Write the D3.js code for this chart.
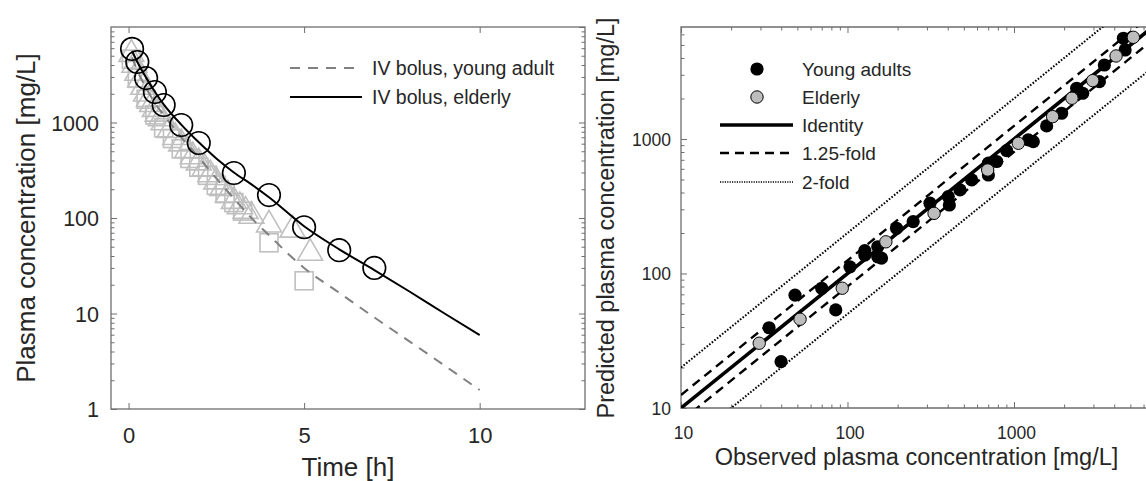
<!DOCTYPE html>
<html>
<head>
<meta charset="utf-8">
<script src="https://cdn.jsdelivr.net/npm/d3@7"></script>
<style>
  html, body { margin: 0; padding: 0; background: #fff; }
  svg { display: block; font-family: "Liberation Sans", Arial, Helvetica, sans-serif; }
</style>
</head>
<body>
<script>
// ---------- Left panel: concentration-time profiles ----------
// Model curves (IV bolus)
const modelTimes      = [0.1, 0.25, 0.5, 0.75, 1, 1.5, 2, 2.5, 3, 3.5, 4, 5, 6, 7, 8, 9, 10];
const modelYoung      = [4800, 3500, 2300, 1600, 1200, 700, 430, 260, 160, 100, 66, 30, 16.5, 9.1, 5.1, 2.85, 1.58];
const modelElderly    = [5600, 4300, 2950, 2100, 1550, 950, 620, 420, 300, 225, 165, 82, 47, 28.5, 17, 10, 5.95];

// Observed, young adults (triangles)
const youngTriTimes   = [0.08, 0.17, 0.25, 0.33, 0.42, 0.5, 0.58, 0.67, 0.75, 0.83, 0.92, 1.0, 1.17, 1.33, 1.5, 1.67, 1.83, 2.0, 2.17, 2.33, 2.5, 2.67, 2.83, 3.0, 3.17, 3.33, 3.5, 4.0, 4.67, 5.17];
const youngTriConc    = [5200, 4000, 3300, 2800, 2350, 2000, 1750, 1550, 1380, 1230, 1100, 1000, 830, 700, 600, 510, 440, 380, 330, 285, 240, 205, 175, 150, 132, 118, 105, 85, 75, 43];
// Observed, young adults (squares)
const youngSqTimes    = [0.08, 0.25, 0.5, 0.75, 1.0, 1.25, 1.5, 1.75, 2.0, 2.25, 2.5, 2.75, 3.0, 3.25, 4.0, 5.0];
const youngSqConc     = [4600, 2900, 1750, 1200, 880, 680, 530, 420, 340, 280, 220, 180, 145, 118, 55, 22];
// Observed, elderly (circles)
const elderlyTimes    = [0.1, 0.25, 0.5, 0.75, 1, 1.5, 2, 3, 4, 5, 6, 7];
const elderlyConc     = [5900, 4300, 2920, 2085, 1525, 942, 610, 296, 174, 80, 46, 30];

const timeTicks       = [0, 5, 10];
const concTicksLeft   = [1, 10, 100, 1000];
const legendLeft      = ["IV bolus, young adult", "IV bolus, elderly"];

// ---------- Right panel: predicted vs observed ----------
const youngObs   = [33.8, 39.9, 48.4, 70, 85, 103.5, 127, 127, 152, 152, 160, 197, 248, 313, 409, 403, 474, 557, 702, 702, 787, 904, 1219, 1306, 1571, 1932, 2380, 2587, 3258, 3490, 4650, 4540];
const youngPred  = [39.5, 22.1, 69, 77.7, 53.6, 112, 148, 137, 158, 133, 130, 217, 243, 333, 323, 373, 418, 496, 540, 661, 680, 819, 984, 955, 1250, 1553, 2382, 2188, 2668, 3548, 4590, 5610];
const elderlyObs  = [29.5, 51.9, 93, 170, 331, 695, 1062, 1706, 2229, 2970, 4103, 5210];
const elderlyPred = [30.3, 45.7, 77.7, 172, 280, 588, 929, 1466, 2009, 2716, 4140, 5700];

const foldFactors = [1, 1.25, 2];
const concTicksRight = [10, 100, 1000];
const legendRight = ["Young adults", "Elderly", "Identity", "1.25-fold", "2-fold"];

// ---------- drawing ----------
const W = 1146, H = 481;
const textColor = "#262626";
const frameColor = "#6e6e6e";

const svg = d3.select("body").append("svg").attr("width", W).attr("height", H);

function minorLogTicks(lo, hi) {
  const out = [];
  for (let d = lo; d < hi; d *= 10) for (let k = 2; k <= 9; k++) if (d * k <= hi) out.push(d * k);
  return out;
}

function styleAxis(g) {
  g.select(".domain").remove();
  g.selectAll(".tick line").attr("stroke", frameColor).attr("stroke-width", 1);
}

// ===== Left panel =====
const L = { x0: 111, x1: 585, y0: 27, y1: 409 };
const xL = d3.scaleLinear().domain([-0.5, 13]).range([L.x0, L.x1]);
const yL = d3.scaleLog().domain([1, 10000]).range([L.y1, L.y0]);

svg.append("clipPath").attr("id", "clipL").append("rect")
  .attr("x", L.x0).attr("y", L.y0).attr("width", L.x1 - L.x0).attr("height", L.y1 - L.y0);

const minorL = minorLogTicks(1, 10000);
// y ticks on both sides
svg.append("g").attr("transform", `translate(${L.x0},0)`)
  .call(d3.axisLeft(yL).tickValues(minorL).tickSize(-3.5).tickFormat("")).call(styleAxis);
svg.append("g").attr("transform", `translate(${L.x1},0)`)
  .call(d3.axisRight(yL).tickValues(minorL).tickSize(-3.5).tickFormat("")).call(styleAxis);
svg.append("g").attr("transform", `translate(${L.x1},0)`)
  .call(d3.axisRight(yL).tickValues(concTicksLeft.concat([10000])).tickSize(-6).tickFormat("")).call(styleAxis);
const gyL = svg.append("g").attr("transform", `translate(${L.x0},0)`)
  .call(d3.axisLeft(yL).tickValues(concTicksLeft).tickSize(-6).tickPadding(12).tickFormat(d3.format("d")))
  .call(styleAxis);
gyL.selectAll("text").attr("fill", textColor).attr("font-size", 21.5).attr("x", -12).attr("dy", "0.36em");
// x ticks bottom and top
const gxL = svg.append("g").attr("transform", `translate(0,${L.y1})`)
  .call(d3.axisBottom(xL).tickValues(timeTicks).tickSize(-6).tickFormat(d3.format("d")))
  .call(styleAxis);
gxL.selectAll("text").attr("fill", textColor).attr("font-size", 22).attr("y", 34).attr("dy", 0);
svg.append("g").attr("transform", `translate(0,${L.y0})`)
  .call(d3.axisTop(xL).tickValues(timeTicks).tickSize(-6).tickFormat("")).call(styleAxis);

svg.append("rect").attr("x", L.x0).attr("y", L.y0).attr("width", L.x1 - L.x0).attr("height", L.y1 - L.y0)
  .attr("fill", "none").attr("stroke", frameColor).attr("stroke-width", 1.3);

const plotL = svg.append("g").attr("clip-path", "url(#clipL)");
const markGray = "#bfbfbf";

// young adults observed: triangles, then squares
plotL.selectAll("path.tri").data(youngTriTimes.map((t, i) => [t, youngTriConc[i]]))
  .join("path").attr("class", "tri")
  .attr("d", d3.symbol().type(d3.symbolTriangle).size(270))
  .attr("transform", d => `translate(${xL(d[0])},${yL(d[1])})`)
  .attr("fill", "none").attr("stroke", markGray).attr("stroke-width", 1.6);
plotL.selectAll("rect.sq").data(youngSqTimes.map((t, i) => [t, youngSqConc[i]]))
  .join("rect").attr("class", "sq")
  .attr("x", d => xL(d[0]) - 9).attr("y", d => yL(d[1]) - 9).attr("width", 18).attr("height", 18)
  .attr("fill", "none").attr("stroke", markGray).attr("stroke-width", 1.6);

const lineL = d3.line().x(d => xL(d[0])).y(d => yL(d[1])).curve(d3.curveMonotoneX);
plotL.append("path").datum(modelTimes.map((t, i) => [t, modelYoung[i]]))
  .attr("d", lineL).attr("fill", "none").attr("stroke", "#808080").attr("stroke-width", 2)
  .attr("stroke-dasharray", "10,8");

plotL.selectAll("circle.eld").data(elderlyTimes.map((t, i) => [t, elderlyConc[i]]))
  .join("circle").attr("class", "eld")
  .attr("cx", d => xL(d[0])).attr("cy", d => yL(d[1])).attr("r", 11.3)
  .attr("fill", "none").attr("stroke", "#000").attr("stroke-width", 1.6);

plotL.append("path").datum(modelTimes.map((t, i) => [t, modelElderly[i]]))
  .attr("d", lineL).attr("fill", "none").attr("stroke", "#000").attr("stroke-width", 2);

// left legend
const legL = svg.append("g");
legL.append("line").attr("x1", 290).attr("x2", 362).attr("y1", 68).attr("y2", 68)
  .attr("stroke", "#808080").attr("stroke-width", 2).attr("stroke-dasharray", "10,8");
legL.append("line").attr("x1", 290).attr("x2", 362).attr("y1", 97).attr("y2", 97)
  .attr("stroke", "#000").attr("stroke-width", 2.2);
legL.selectAll("text").data(legendLeft).join("text")
  .attr("x", 372).attr("y", (d, i) => 68 + i * 29).attr("dy", "0.35em")
  .attr("font-size", 19.5).attr("fill", textColor).text(d => d);

// axis titles
svg.append("text").attr("transform", `translate(35,218) rotate(-90)`).attr("text-anchor", "middle")
  .attr("font-size", 26).attr("fill", textColor).text("Plasma concentration [mg/L]");
svg.append("text").attr("x", (L.x0 + L.x1) / 2).attr("y", 476).attr("text-anchor", "middle")
  .attr("font-size", 26).attr("fill", textColor).text("Time [h]");

// ===== Right panel =====
const R = { x0: 681, y0: 27, y1: 408 };
const xR = d3.scaleLog().domain([10, 6800]).range([R.x0, R.x0 + 471.6]);
const yR = d3.scaleLog().domain([10, 6800]).range([R.y1, R.y0]);
R.x1 = xR.range()[1];

svg.append("clipPath").attr("id", "clipR").append("rect")
  .attr("x", R.x0).attr("y", R.y0).attr("width", R.x1 - R.x0).attr("height", R.y1 - R.y0);

const minorR = minorLogTicks(10, 6800);
svg.append("g").attr("transform", `translate(${R.x0},0)`)
  .call(d3.axisLeft(yR).tickValues(minorR).tickSize(-3.5).tickFormat("")).call(styleAxis);
const gyR = svg.append("g").attr("transform", `translate(${R.x0},0)`)
  .call(d3.axisLeft(yR).tickValues(concTicksRight).tickSize(-6).tickFormat(d3.format("d")))
  .call(styleAxis);
gyR.selectAll("text").attr("fill", textColor).attr("font-size", 17.5).attr("x", -10).attr("dy", "0.36em");
svg.append("g").attr("transform", `translate(0,${R.y1})`)
  .call(d3.axisBottom(xR).tickValues(minorR).tickSize(-3.5).tickFormat("")).call(styleAxis);
const gxR = svg.append("g").attr("transform", `translate(0,${R.y1})`)
  .call(d3.axisBottom(xR).tickValues(concTicksRight).tickSize(-6).tickFormat(d3.format("d")))
  .call(styleAxis);
gxR.selectAll("text").attr("fill", textColor).attr("font-size", 17.5).attr("x", 2).attr("y", 31).attr("dy", 0);
svg.append("g").attr("transform", `translate(0,${R.y0})`)
  .call(d3.axisTop(xR).tickValues(minorR).tickSize(-3.5).tickFormat("")).call(styleAxis);
svg.append("g").attr("transform", `translate(0,${R.y0})`)
  .call(d3.axisTop(xR).tickValues(concTicksRight).tickSize(-6).tickFormat("")).call(styleAxis);

svg.append("path")
  .attr("d", `M${R.x1},${R.y0}H${R.x0}V${R.y1}H${R.x1}`)
  .attr("fill", "none").attr("stroke", frameColor).attr("stroke-width", 1.3);

const plotR = svg.append("g").attr("clip-path", "url(#clipR)");
const dom = xR.domain();
const foldStyles = {
  1:    { w: 3.6, dash: null },
  1.25: { w: 2.4, dash: "9,6" },
  2:    { w: 2, dash: "1.6,1.7" }
};
foldFactors.forEach(f => {
  const variants = f === 1 ? [1] : [f, 1 / f];
  variants.forEach(k => {
    const p = plotR.append("line")
      .attr("x1", xR(dom[0])).attr("y1", yR(dom[0] * k))
      .attr("x2", xR(dom[1])).attr("y2", yR(dom[1] * k))
      .attr("stroke", "#000").attr("stroke-width", foldStyles[f].w);
    if (foldStyles[f].dash) p.attr("stroke-dasharray", foldStyles[f].dash);
  });
});

plotR.selectAll("circle.yo").data(youngObs.map((v, i) => [v, youngPred[i]]))
  .join("circle").attr("class", "yo")
  .attr("cx", d => xR(d[0])).attr("cy", d => yR(d[1])).attr("r", 6.6).attr("fill", "#000");
plotR.selectAll("circle.el").data(elderlyObs.map((v, i) => [v, elderlyPred[i]]))
  .join("circle").attr("class", "el")
  .attr("cx", d => xR(d[0])).attr("cy", d => yR(d[1])).attr("r", 6.2)
  .attr("fill", "#bdbdbd").attr("stroke", "#000").attr("stroke-width", 1);

// right legend
const legR = svg.append("g");
const legY = [69, 97, 125, 153, 182];
legR.append("circle").attr("cx", 757).attr("cy", legY[0]).attr("r", 6.6).attr("fill", "#000");
legR.append("circle").attr("cx", 757).attr("cy", legY[1]).attr("r", 6.2)
  .attr("fill", "#bdbdbd").attr("stroke", "#000").attr("stroke-width", 1);
[[1, 2], [1.25, 3], [2, 4]].forEach(([f, idx]) => {
  const p = legR.append("line").attr("x1", 720).attr("x2", 793).attr("y1", legY[idx]).attr("y2", legY[idx])
    .attr("stroke", "#000").attr("stroke-width", f === 2 ? 1.3 : foldStyles[f].w);
  if (foldStyles[f].dash) p.attr("stroke-dasharray", f === 2 ? "1.2,1.2" : foldStyles[f].dash);
});
legR.selectAll("text").data(legendRight).join("text")
  .attr("x", 802).attr("y", (d, i) => legY[i]).attr("dy", "0.35em")
  .attr("font-size", 19).attr("fill", textColor).text(d => d);

svg.append("text").attr("transform", `translate(614,218) rotate(-90)`).attr("text-anchor", "middle")
  .attr("font-size", 23.5).attr("fill", textColor).text("Predicted plasma concentration [mg/L]");
svg.append("text").attr("x", 916.5).attr("y", 465).attr("text-anchor", "middle")
  .attr("font-size", 23.5).attr("fill", textColor).text("Observed plasma concentration [mg/L]");
</script>
</body>
</html>
